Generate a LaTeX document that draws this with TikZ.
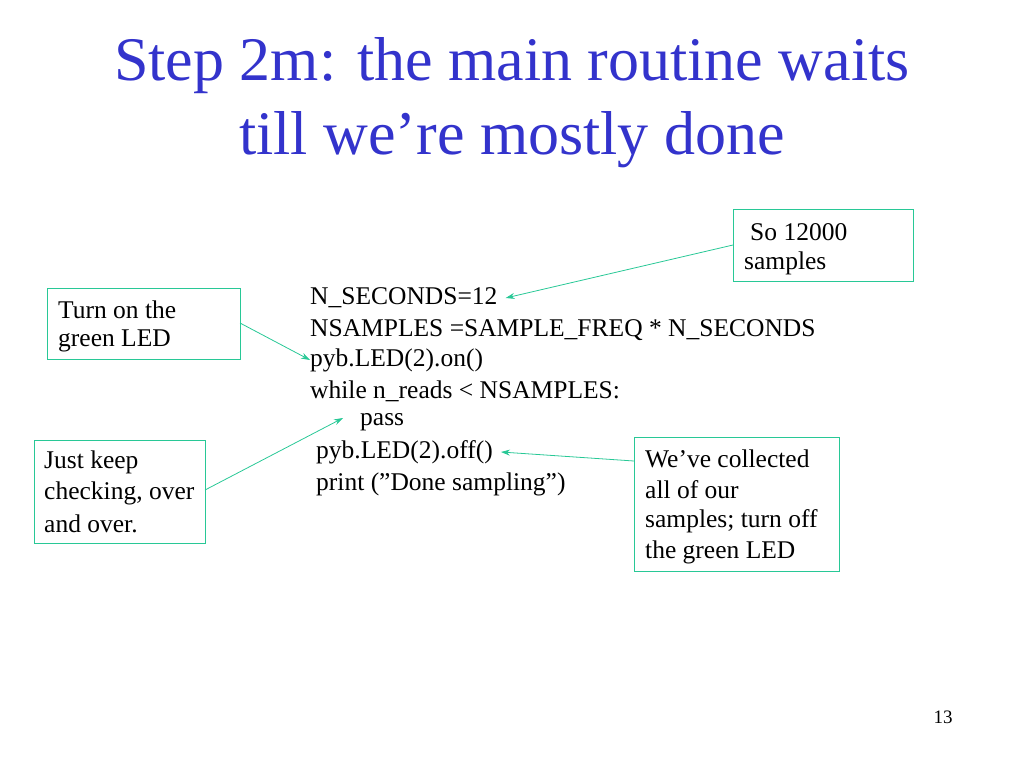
\documentclass[tikz,border=0pt]{standalone}
\usepackage{fontspec}
\setmainfont{Liberation Serif}
\usetikzlibrary{arrows.meta}
\definecolor{ttl}{RGB}{51,51,204}
\definecolor{tl}{RGB}{40,200,150}
\tikzset{
  txt/.style={anchor=west,inner sep=0pt,font=\fontsize{25.5}{31}\selectfont},
  arr/.style={draw=tl,line width=0.8pt,-{Stealth[length=9pt,width=6pt]}}
}
\begin{document}
\begin{tikzpicture}[x=1pt,y=-1pt]
\useasboundingbox (0,0) rectangle (1024,768);
\node[font=\fontsize{62}{70}\selectfont,text=ttl] (t1) at (512,66) {Step 2m: the main routine waits};
\node[font=\fontsize{62}{70}\selectfont,text=ttl] (t2) at (512,140) {till we’re mostly done};
\draw[tl,line width=0.8pt] (733,209) rectangle (913,281);
\node[txt] (b1a) at (750,232) {So 12000};
\node[txt] (b1b) at (744,263) {samples};
\coordinate (b1) at (733,245);
\draw[tl,line width=0.8pt] (47,288) rectangle (240,359);
\node[txt] at (58,310) {Turn on the};
\node[txt] at (58,341) {green LED};
\coordinate (b2) at (240,323);
\draw[tl,line width=0.8pt] (34,440) rectangle (205,543);
\node[txt] at (44,462) {Just keep};
\node[txt] at (44,493) {checking, over};
\node[txt] at (44,524) {and over.};
\coordinate (b3) at (205,490);
\draw[tl,line width=0.8pt] (634,437) rectangle (839,571);
\node[txt] at (645,459) {We’ve collected};
\node[txt] at (645,490) {all of our};
\node[txt] at (645,521) {samples; turn off};
\node[txt] at (645,552) {the green LED};
\coordinate (b4) at (634,461);
\node[txt] (c1) at (310,298) {N\_SECONDS=12};
\node[txt] (c2) at (310,330) {NSAMPLES =SAMPLE\_FREQ * N\_SECONDS};
\node[txt] (c3) at (310,360) {pyb.LED(2).on()};
\node[txt] (c4) at (310,391) {while n\_reads < NSAMPLES:};
\node[txt] (c5) at (360,422) {pass};
\node[txt] (c6) at (316,452) {pyb.LED(2).off()};
\node[txt] (c7) at (316,484) {print ({\char34}Done sampling{\char34})};
\draw[arr] (b1) -- ([xshift=8pt]c1.east);
\draw[arr] (b2) -- (c3.west);
\draw[arr] (b3) -- (343,418);
\draw[arr] (b4) -- ([xshift=8pt]c6.east);
\node[font=\fontsize{19}{21}\selectfont] (pg) at (943,717) {13};
\end{tikzpicture}
\end{document}
